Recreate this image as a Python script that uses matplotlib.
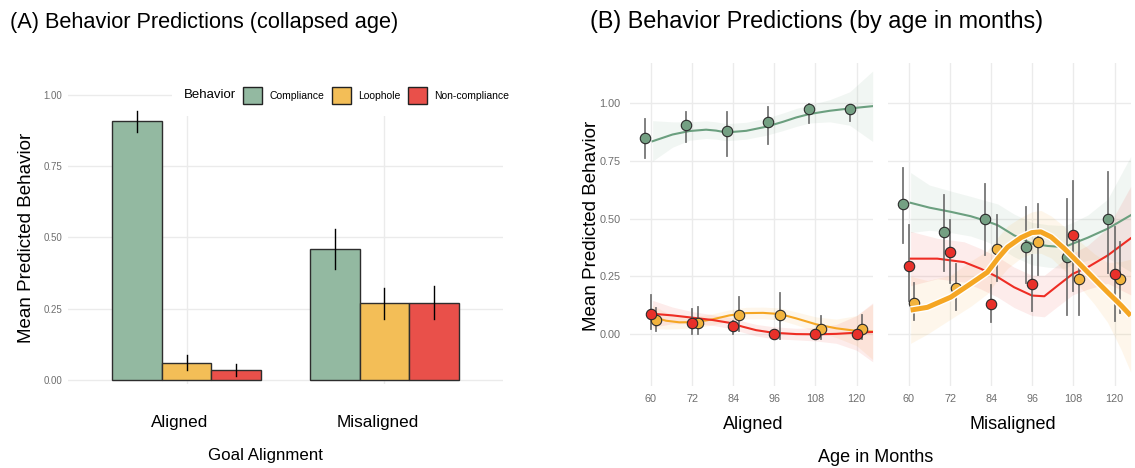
import matplotlib
matplotlib.use('Agg')
import matplotlib.pyplot as plt
import matplotlib.patheffects as pe
from matplotlib.patches import Patch, Rectangle
from matplotlib.transforms import ScaledTranslation

plt.rcParams['font.family'] = ['Liberation Sans', 'DejaVu Sans']

W, H = 1135, 468

behaviors = ['Compliance', 'Loophole', 'Non-compliance']
alignments = ['Aligned', 'Misaligned']

# (A) collapsed age bars
bar_mean = {'Aligned': [0.907, 0.060, 0.034], 'Misaligned': [0.459, 0.271, 0.269]}
bar_lo = {'Aligned': [0.870, 0.035, 0.014], 'Misaligned': [0.390, 0.215, 0.213]}
bar_hi = {'Aligned': [0.944, 0.089, 0.055], 'Misaligned': [0.531, 0.323, 0.331]}

# (B) means by age
ages = [60, 72, 84, 96, 108, 120]

aligned_mean = {'Compliance': [0.851, 0.905, 0.880, 0.919, 0.975, 0.975],
                'Loophole': [0.062, 0.048, 0.082, 0.081, 0.023, 0.023],
                'Non-compliance': [0.087, 0.048, 0.035, 0.0, 0.0, 0.0]}
aligned_lo = {'Compliance': [0.764, 0.834, 0.772, 0.824, 0.916, 0.923],
              'Loophole': [0.014, 0.0, 0.014, -0.02, -0.02, -0.02],
              'Non-compliance': [0.02, 0.0, 0.0, 0.0, 0.0, 0.0]}
aligned_hi = {'Compliance': [0.931, 0.964, 0.964, 0.986, 0.998, 0.995],
              'Loophole': [0.111, 0.116, 0.159, 0.18, 0.078, 0.082],
              'Non-compliance': [0.168, 0.107, 0.056, 0.0, 0.0, 0.0]}

misaligned_mean = {'Compliance': [0.566, 0.441, 0.499, 0.379, 0.332, 0.499],
                   'Loophole': [0.136, 0.201, 0.368, 0.40, 0.238, 0.238],
                   'Non-compliance': [0.296, 0.357, 0.130, 0.218, 0.428, 0.262]}
misaligned_lo = {'Compliance': [0.396, 0.275, 0.342, 0.223, 0.082, 0.263],
                 'Loophole': [0.06, 0.104, 0.23, 0.256, 0.082, 0.09],
                 'Non-compliance': [0.145, 0.22, 0.051, 0.101, 0.188, 0.058]}
misaligned_hi = {'Compliance': [0.721, 0.605, 0.650, 0.551, 0.584, 0.702],
                 'Loophole': [0.22, 0.303, 0.516, 0.566, 0.408, 0.397],
                 'Non-compliance': [0.473, 0.494, 0.212, 0.342, 0.665, 0.465]}

# smooth fits
aligned_fit_age = {
    'Compliance': [60.5, 66.3, 71.2, 76.1, 79, 82, 87.8, 93.7, 98.5, 102.4, 106.3, 112.2, 118, 124.7],
    'Loophole': [60.5, 64.4, 68.3, 73.2, 78, 82.9, 87.8, 92.7, 97.6, 102.4, 108.3, 114.1, 120, 124.7],
    'Non-compliance': [60.5, 66.3, 72.2, 78, 82.9, 86.8, 90.7, 95.6, 102.4, 108.3, 114.1, 120, 124.7]}
aligned_fit = {
    'Compliance': [0.836, 0.865, 0.880, 0.886, 0.882, 0.874, 0.881, 0.899, 0.920, 0.939, 0.954, 0.968, 0.978, 0.988],
    'Loophole': [0.075, 0.058, 0.051, 0.052, 0.064, 0.081, 0.091, 0.092, 0.087, 0.068, 0.042, 0.025, 0.014, 0.011],
    'Non-compliance': [0.088, 0.081, 0.071, 0.061, 0.049, 0.032, 0.017, 0.006, 0.0, -0.001, 0.001, 0.006, 0.009]}
aligned_fit_lo = {
    'Compliance': [0.75, 0.81, 0.84, 0.848, 0.845, 0.838, 0.845, 0.862, 0.882, 0.90, 0.915, 0.92, 0.905, 0.835],
    'Loophole': [0.025, 0.022, 0.024, 0.027, 0.04, 0.057, 0.066, 0.067, 0.061, 0.04, 0.01, -0.015, -0.05, -0.11],
    'Non-compliance': [0.03, 0.045, 0.045, 0.038, 0.025, 0.008, -0.008, -0.02, -0.025, -0.03, -0.04, -0.07, -0.12]}
aligned_fit_hi = {
    'Compliance': [0.925, 0.92, 0.92, 0.924, 0.92, 0.912, 0.918, 0.936, 0.958, 0.978, 0.993, 1.016, 1.05, 1.14],
    'Loophole': [0.125, 0.094, 0.078, 0.077, 0.088, 0.105, 0.116, 0.117, 0.113, 0.096, 0.074, 0.065, 0.08, 0.13],
    'Non-compliance': [0.146, 0.117, 0.097, 0.084, 0.073, 0.056, 0.042, 0.032, 0.025, 0.028, 0.042, 0.08, 0.135]}

misaligned_fit_age = {
    'Compliance': [60.5, 66, 72.2, 78, 82, 85.9, 90.7, 95.9, 100.5, 105.4, 107.8, 112.2, 118, 124.7],
    'Loophole': [60.5, 65.4, 72.2, 78, 82.9, 85.9, 88.8, 92.7, 95.9, 98.5, 101.5, 105.4, 109.3, 114.1, 118, 122, 124.7],
    'Non-compliance': [60.5, 68.3, 76.1, 81, 85.9, 90.7, 95.9, 99.5, 103.4, 107.8, 112.2, 118, 124.7]}
misaligned_fit = {
    'Compliance': [0.569, 0.548, 0.530, 0.511, 0.493, 0.472, 0.428, 0.392, 0.382, 0.377, 0.392, 0.418, 0.457, 0.515],
    'Loophole': [0.104, 0.116, 0.16, 0.218, 0.268, 0.327, 0.377, 0.418, 0.44, 0.443, 0.421, 0.37, 0.312, 0.239, 0.181, 0.123, 0.08],
    'Non-compliance': [0.327, 0.327, 0.312, 0.283, 0.247, 0.203, 0.167, 0.164, 0.21, 0.261, 0.29, 0.341, 0.415]}
misaligned_fit_lo = {
    'Compliance': [0.44, 0.45, 0.44, 0.425, 0.405, 0.38, 0.335, 0.30, 0.29, 0.285, 0.30, 0.32, 0.33, 0.27],
    'Loophole': [-0.04, 0.0, 0.065, 0.12, 0.175, 0.235, 0.285, 0.33, 0.35, 0.35, 0.33, 0.275, 0.215, 0.13, 0.05, -0.07, -0.165],
    'Non-compliance': [0.21, 0.24, 0.225, 0.195, 0.16, 0.115, 0.08, 0.075, 0.12, 0.17, 0.195, 0.22, 0.17]}
misaligned_fit_hi = {
    'Compliance': [0.70, 0.646, 0.62, 0.597, 0.58, 0.564, 0.52, 0.484, 0.474, 0.47, 0.484, 0.516, 0.585, 0.77],
    'Loophole': [0.25, 0.232, 0.255, 0.316, 0.361, 0.419, 0.469, 0.506, 0.53, 0.536, 0.512, 0.465, 0.409, 0.348, 0.31, 0.315, 0.325],
    'Non-compliance': [0.445, 0.415, 0.40, 0.37, 0.335, 0.29, 0.255, 0.255, 0.30, 0.35, 0.385, 0.46, 0.64]}

bar_colors = {'Compliance': '#93B9A1', 'Loophole': '#F3BE57', 'Non-compliance': '#E9504A'}
point_colors = {'Compliance': '#74A083', 'Loophole': '#F2B33D', 'Non-compliance': '#E8302A'}
line_colors = {'Compliance': '#6B9F7F', 'Loophole': '#F5A623', 'Non-compliance': '#EE2D24'}
dodge = {'Compliance': -1.8, 'Loophole': 1.6, 'Non-compliance': 0.0}
grid_c = '#EBEBEB'
tick_c = '#6e6e6e'

fig = plt.figure(figsize=(W / 100, H / 100), dpi=100)


def style(ax):
    for s in ax.spines.values():
        s.set_visible(False)
    ax.set_axisbelow(True)
    ax.grid(True, color=grid_c, lw=1.0)
    ax.tick_params(length=0, colors=tick_c)


# ---- panel A
axA = fig.add_axes([68 / W, 1 - 384 / H, 435 / W, 295 / H])
style(axA)
bw = 0.25
for g, al in enumerate(alignments):
    for i, beh in enumerate(behaviors):
        x = g + 1 + (i - 1) * bw
        m = bar_mean[al][i]
        axA.bar(x, m, width=bw, color=bar_colors[beh], edgecolor='#2d2d2d', lw=1.0, zorder=2)
        axA.plot([x, x], [bar_lo[al][i], bar_hi[al][i]], color='black', lw=1.0, zorder=3)
axA.set_xlim(0.4, 2.6)
axA.set_ylim(-0.014, 1.02)
axA.set_yticks([0, 0.25, 0.5, 0.75, 1.0])
axA.set_yticklabels(['0.00', '0.25', '0.50', '0.75', '1.00'], fontsize=7)
axA.set_xticks([1, 2])
axA.set_xticklabels(alignments, fontsize=12.3, color='black')
axA.tick_params(axis='x', pad=22)
axA.tick_params(axis='y', pad=4)
for lbl in axA.get_xticklabels():
    lbl.set_transform(lbl.get_transform() + ScaledTranslation(-0.07, 0, fig.dpi_scale_trans))

# legend area
axA.add_patch(Rectangle((172 / W, 1 - 116 / H), 400 / W, 40 / H, transform=fig.transFigure,
                        facecolor='white', edgecolor='none', zorder=1, clip_on=False))
handles = [Patch(facecolor=bar_colors[b], edgecolor='#222222', lw=1.0) for b in behaviors]
fig.legend(handles, behaviors, ncol=3, loc='center left', bbox_to_anchor=(243 / W, 1 - 95.5 / H),
           frameon=False, fontsize=7.5, handlelength=1.83, handleheight=2.0, handletextpad=0.75,
           columnspacing=0.65, borderpad=0, borderaxespad=0)
fig.text(184 / W, 1 - 95.5 / H, 'Behavior', fontsize=9.5, va='center', ha='left')

fig.text(10 / W, 1 - 28 / H, '(A) Behavior Predictions (collapsed age)', fontsize=15.7, va='baseline')
fig.text(27 / W, 1 - 238 / H, 'Mean Predicted Behavior', fontsize=13.5, rotation=90, va='center', ha='center')
fig.text(265 / W, 1 - 460 / H, 'Goal Alignment', fontsize=12.2, ha='center', va='baseline')

# ---- panel B
facets = {
    'Aligned': (aligned_mean, aligned_lo, aligned_hi, aligned_fit_age, aligned_fit, aligned_fit_lo, aligned_fit_hi),
    'Misaligned': (misaligned_mean, misaligned_lo, misaligned_hi, misaligned_fit_age, misaligned_fit,
                   misaligned_fit_lo, misaligned_fit_hi),
}
lefts = {'Aligned': 630, 'Misaligned': 888}
for al in alignments:
    mean, lo, hi, fage, fit, flo, fhi = facets[al]
    ax = fig.add_axes([lefts[al] / W, 1 - 386 / H, 243 / W, 323 / H])
    style(ax)
    for beh in behaviors:
        ax.fill_between(fage[beh], flo[beh], fhi[beh], color=line_colors[beh], alpha=0.09, lw=0, zorder=1)
    for beh in behaviors:
        if al == 'Misaligned' and beh == 'Loophole':
            ax.plot(fage[beh], fit[beh], color=line_colors[beh], lw=3.6, zorder=6, solid_capstyle='butt',
                    path_effects=[pe.Stroke(linewidth=5.6, foreground='white'), pe.Normal()])
        else:
            ax.plot(fage[beh], fit[beh], color=line_colors[beh], lw=1.5, zorder=2)
    for beh in behaviors:
        xs = [a + dodge[beh] for a in ages]
        for x, l, h in zip(xs, lo[beh], hi[beh]):
            ax.plot([x, x], [l, h], color='#5f5f5f', lw=1.3, alpha=0.85, zorder=3)
        ax.plot(xs, mean[beh], 'o', ms=7.5, mfc=point_colors[beh], mec='#2a2a2a', mew=0.8, zorder=4)
    ax.set_xlim(53.9, 124.8)
    ax.set_ylim(-0.225, 1.175)
    ax.set_xticks(ages)
    ax.set_xticklabels([str(a) for a in ages], fontsize=7.8)
    ax.set_yticks([0, 0.25, 0.5, 0.75, 1.0])
    ax.tick_params(axis='x', pad=6)
    if al == 'Aligned':
        ax.set_yticklabels(['0.00', '0.25', '0.50', '0.75', '1.00'], fontsize=7.8)
        ax.tick_params(axis='y', pad=7)
    else:
        ax.set_yticklabels([])

fig.text(753 / W, 1 - 429 / H, 'Aligned', fontsize=13, ha='center', va='baseline')
fig.text(1013 / W, 1 - 429 / H, 'Misaligned', fontsize=13, ha='center', va='baseline')
fig.text(876 / W, 1 - 462 / H, 'Age in Months', fontsize=13, ha='center', va='baseline')
fig.text(591 / W, 1 - 226 / H, 'Mean Predicted Behavior', fontsize=13.5, rotation=90, va='center', ha='center')
fig.text(590 / W, 1 - 28 / H, '(B) Behavior Predictions (by age in months)', fontsize=16.8, va='baseline')

fig.savefig('out.png', dpi=100)
